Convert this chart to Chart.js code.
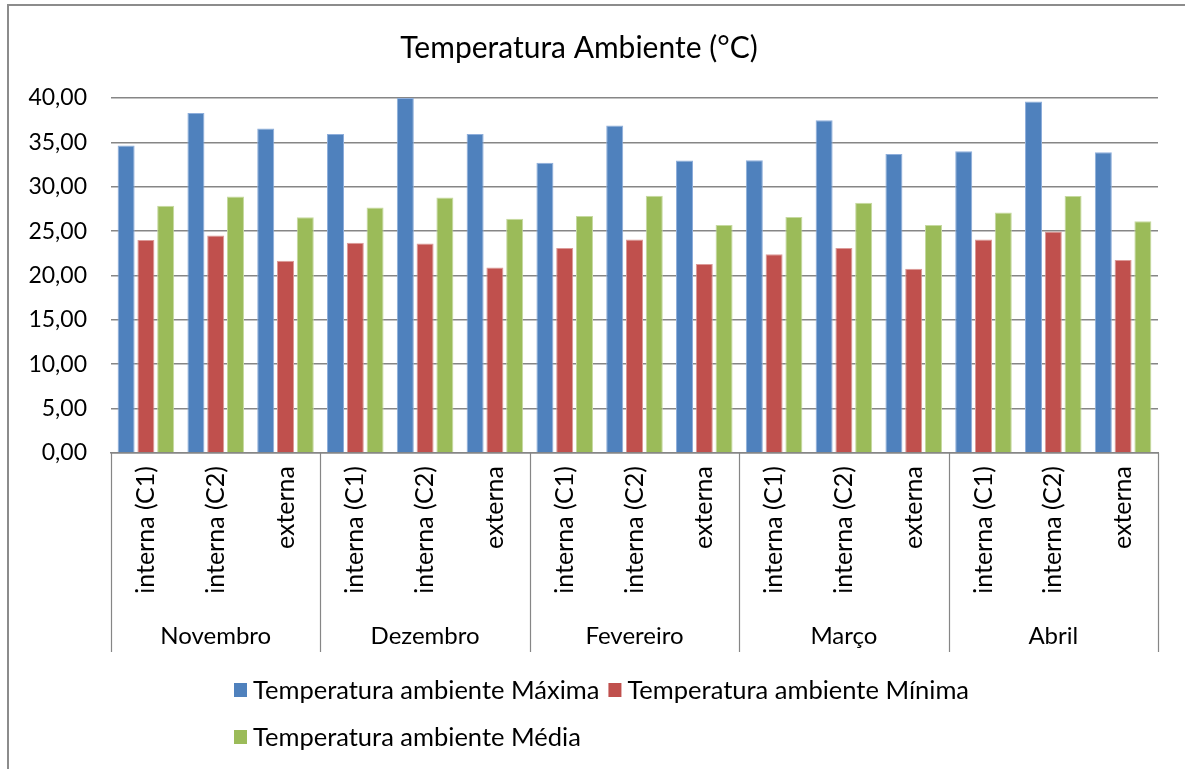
<!DOCTYPE html>
<html lang="pt">
<head>
<meta charset="utf-8">
<title>Temperatura Ambiente</title>
<script src="https://cdn.jsdelivr.net/npm/chart.js@4/dist/chart.umd.min.js"></script>
<style>
  html, body { margin: 0; padding: 0; background: #ffffff; }
  #wrap { position: absolute; left: 0; top: 0; width: 1185px; height: 769px; }
</style>
</head>
<body>
<div id="wrap"><canvas id="chart" width="1185" height="769"></canvas></div>
<script>
// Months (outer group) and measuring points (inner categories)
const months = ['Novembro', 'Dezembro', 'Fevereiro', 'Março', 'Abril'];
const locations = ['interna (C1)', 'interna (C2)', 'externa'];
const categories = months.flatMap(() => locations);

// Ambient temperature, °C (one value per month × location)
const tempMax = [34.65, 38.30, 36.55, 35.95, 40.00, 35.95, 32.70, 36.90, 32.95, 33.00, 37.50, 33.70, 34.00, 39.60, 33.90];
const tempMin = [24.00, 24.50, 21.65, 23.70, 23.60, 20.90, 23.10, 24.05, 21.30, 22.40, 23.10, 20.75, 24.05, 24.95, 21.75];
const tempMed = [27.85, 28.90, 26.55, 27.65, 28.80, 26.40, 26.70, 29.00, 25.70, 26.60, 28.20, 25.70, 27.10, 28.95, 26.10];

const seriesNames = ['Temperatura ambiente Máxima', 'Temperatura ambiente Mínima', 'Temperatura ambiente Média'];
const yTicks = [0, 5, 10, 15, 20, 25, 30, 35, 40];

const FONT = 'Lato, "Open Sans", sans-serif';
const GRID = '#868686';

// Frame edges (top and left) of the chart
const framePlugin = {
  id: 'frame',
  beforeDraw(chart) {
    const ctx = chart.ctx;
    ctx.save();
    ctx.fillStyle = '#ffffff';
    ctx.fillRect(0, 0, chart.width, chart.height);
    ctx.strokeStyle = '#8c8c8c';
    ctx.lineWidth = 2;
    ctx.beginPath();
    ctx.moveTo(8, chart.height);
    ctx.lineTo(8, 5);
    ctx.lineTo(chart.width, 5);
    ctx.stroke();
    ctx.restore();
  }
};

// Month separators and month names under the rotated location labels
const groupPlugin = {
  id: 'monthGroups',
  afterDraw(chart) {
    const xs = chart.scales.x;
    const ctx = chart.ctx;
    const step = (xs.right - xs.left) / categories.length;
    const per = locations.length;
    const bottom = xs.top + 199;
    ctx.save();
    ctx.strokeStyle = GRID;
    ctx.lineWidth = 1.2;
    for (let g = 0; g <= months.length; g++) {
      const x = Math.round(xs.left + g * per * step) + 0.5;
      ctx.beginPath();
      ctx.moveTo(x, xs.top);
      ctx.lineTo(x, bottom);
      ctx.stroke();
    }
    ctx.fillStyle = '#000000';
    ctx.font = '24px ' + FONT;
    ctx.textAlign = 'center';
    ctx.textBaseline = 'middle';
    months.forEach((m, g) => {
      const cx = xs.left + (g * per + per / 2) * step;
      ctx.fillText(m, cx, xs.top + 183);
    });
    ctx.restore();
  }
};

// Legend laid out in two rows, left aligned
const legendPlugin = {
  id: 'sideLegend',
  afterDraw(chart) {
    const ctx = chart.ctx;
    const rows = [[0, 1], [2]];
    const rowY = [690, 737];
    const startX = 234;
    ctx.save();
    ctx.font = '25.5px ' + FONT;
    ctx.textBaseline = 'middle';
    ctx.textAlign = 'left';
    rows.forEach((row, r) => {
      let x = startX;
      row.forEach(i => {
        const ds = chart.data.datasets[i];
        ctx.fillStyle = ds.backgroundColor;
        ctx.fillRect(x, rowY[r] - 7, 13, 14);
        ctx.fillStyle = '#000000';
        ctx.fillText(ds.label, x + 19, rowY[r] + 1);
        x += 19 + ctx.measureText(ds.label).width + 9;
      });
    });
    ctx.restore();
  }
};

const barStyle = { categoryPercentage: 0.85, barPercentage: 0.86, borderWidth: 1 };

new Chart(document.getElementById('chart'), {
  type: 'bar',
  data: {
    labels: categories,
    datasets: [
      { label: seriesNames[0], data: tempMax, backgroundColor: '#4f81bd', borderColor: '#8eaedb', ...barStyle },
      { label: seriesNames[1], data: tempMin, backgroundColor: '#c0504d', borderColor: '#dc9a98', ...barStyle },
      { label: seriesNames[2], data: tempMed, backgroundColor: '#9bbb59', borderColor: '#c6daa0', ...barStyle }
    ]
  },
  options: {
    responsive: false,
    animation: false,
    layout: { padding: { left: 0, right: 27, top: 0, bottom: 117 } },
    plugins: {
      legend: { display: false },
      tooltip: { enabled: false },
      title: {
        display: true,
        text: 'Temperatura Ambiente (°C)',
        color: '#000000',
        font: { family: FONT, size: 30, weight: 'normal' },
        padding: { top: 30, bottom: 32 }
      }
    },
    scales: {
      x: {
        grid: { display: false, drawTicks: false },
        border: { display: true, color: GRID, width: 1.5 },
        ticks: {
          color: '#000000',
          font: { family: FONT, size: 25 },
          minRotation: 90,
          maxRotation: 90,
          autoSkip: false,
          padding: 13
        },
        afterFit(scale) { scale.height = 199; }
      },
      y: {
        min: 0,
        max: 40,
        afterBuildTicks(scale) { scale.ticks = yTicks.map(v => ({ value: v })); },
        grid: { color: GRID, lineWidth: 1.6, drawTicks: false },
        border: { display: false },
        ticks: {
          color: '#000000',
          font: { family: FONT, size: 23 },
          padding: 24,
          callback: v => Number(v).toFixed(2).replace('.', ',')
        },
        afterFit(scale) { scale.width = 111; }
      }
    }
  },
  plugins: [framePlugin, groupPlugin, legendPlugin]
});
</script>
</body>
</html>
